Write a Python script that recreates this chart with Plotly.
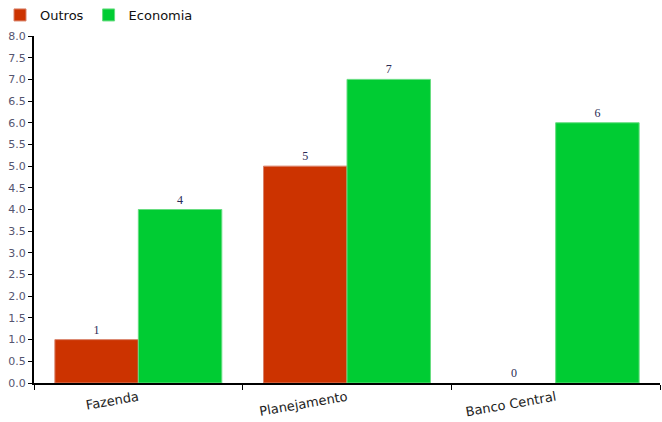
import plotly.graph_objects as go

categories = ["Fazenda", "Planejamento", "Banco Central"]
outros = [1, 5, 0]
economia = [4, 7, 6]
yticks = [i * 0.5 for i in range(17)]

fig = go.Figure()
fig.add_trace(go.Bar(
    name="Outros", x=categories, y=outros,
    marker=dict(color="#CC3300",
                line=dict(color="#d9826a", width=[1 if v else 0 for v in outros])),
    text=[str(v) for v in outros], textposition="outside",
    textfont=dict(family="Liberation Serif", size=12, color="#2a2a55"),
    cliponaxis=False,
))
fig.add_trace(go.Bar(
    name="Economia", x=categories, y=economia,
    marker=dict(color="#00CC33", line=dict(color="#66dd80", width=1)),
    text=[str(v) for v in economia], textposition="outside",
    textfont=dict(family="Liberation Serif", size=12, color="#2a2a55"),
    cliponaxis=False,
))

fig.update_layout(
    width=662, height=422,
    margin=dict(l=34, r=2, t=36, b=39, autoexpand=False),
    barmode="group", bargap=0.2, bargroupgap=0,
    plot_bgcolor="white", paper_bgcolor="white",
    font=dict(family="DejaVu Sans", size=12, color="#222"),
    legend=dict(orientation="h", xref="container", yref="container",
                x=0, xanchor="left", y=1, yanchor="top",
                font=dict(size=13, color="#111"), itemwidth=30, traceorder="normal"),
    xaxis=dict(
        type="category", tickson="boundaries", ticks="outside", ticklen=5,
        tickcolor="#000", showline=True, linecolor="#000", linewidth=2,
        tickangle=-10, tickfont=dict(size=13, color="#222"), showgrid=False,
    ),
    yaxis=dict(
        range=[0, 8], tickvals=yticks, tickformat=".1f",
        ticks="outside", ticklen=4, tickcolor="#000",
        showline=True, linecolor="#000", linewidth=2, showgrid=False,
        zeroline=False, tickfont=dict(size=11, color="#555570"),
    ),
)

fig.write_html("out.html")
